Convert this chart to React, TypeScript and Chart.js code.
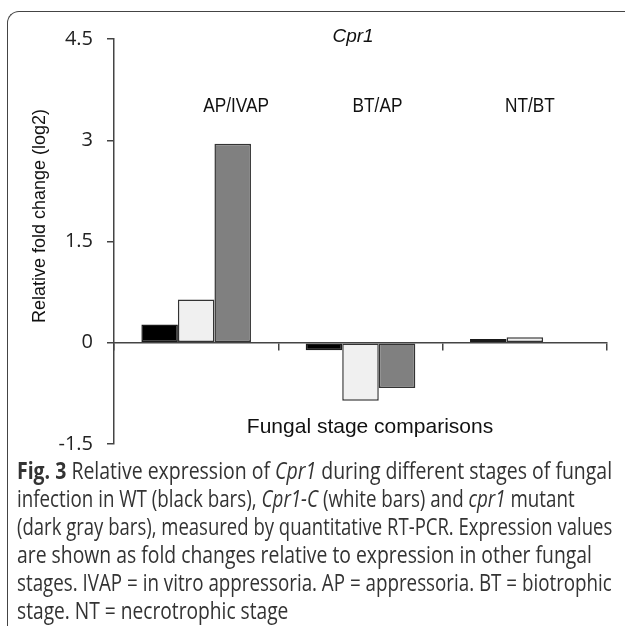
import React, { useEffect, useLayoutEffect, useRef, useState } from "react";
import { Chart, registerables } from "chart.js";

Chart.register(...registerables);

const categories = ["AP/IVAP", "BT/AP", "NT/BT"];
const wtValues = [0.27, -0.11, 0.055];
const cprCValues = [0.64, -0.86, 0.08];
const mutantValues: (number | null)[] = [2.95, -0.67, null];
const yTicks = [-1.5, 0, 1.5, 3, 4.5];
const seriesNames = ["WT", "Cpr1-C", "cpr1"];

const LABEL_NUDGE = [40, 17, 5];

const captionLines: React.ReactNode[] = [
  <><b style={{ fontWeight: 700 }}>Fig. 3</b> Relative expression of <i>Cpr1</i> during different stages of fungal</>,
  <>infection in WT (black bars), <i>Cpr1-C</i> (white bars) and <i>cpr1</i> mutant</>,
  <>(dark gray bars), measured by quantitative RT-PCR. Expression values</>,
  <>are shown as fold changes relative to expression in other fungal</>,
  <>stages. IVAP = in vitro appressoria. AP = appressoria. BT = biotrophic</>,
  <>stage. NT = necrotrophic stage</>,
];
const CAPTION_LEFT = 17;
const captionRightEdges = [612, 575, 612, 592, 612, 288];

const textPlugin = {
  id: "figText",
  afterDraw(chart: any) {
    const ctx = chart.ctx;
    const xs = chart.scales.x;
    ctx.save();
    ctx.fillStyle = "#111";
    ctx.textBaseline = "alphabetic";
    ctx.textAlign = "center";
    ctx.font = 'italic 19px "Liberation Sans", Arial, sans-serif';
    ctx.fillText("Cpr1", 353, 42);
    ctx.font = '21px "Liberation Sans", Arial, sans-serif';
    categories.forEach((c, i) => {
      const w = ctx.measureText(c).width;
      ctx.fillText(c, xs.getPixelForValue(i) + LABEL_NUDGE[i], 112, w * 0.82);
    });
    ctx.fillText("Fungal stage comparisons", 370, 433);
    ctx.translate(45, 216);
    ctx.rotate(-Math.PI / 2);
    ctx.font = '18px "Liberation Sans", Arial, sans-serif';
    ctx.fillText("Relative fold change (log2)", 0, 0);
    ctx.restore();
  },
};

export default function App() {
  const canvasRef = useRef<HTMLCanvasElement | null>(null);
  const capRef = useRef<HTMLDivElement | null>(null);
  const [scales, setScales] = useState<number[]>(captionLines.map(() => 1));

  useLayoutEffect(() => {
    const el = capRef.current;
    if (!el) return;
    const spans = Array.from(el.querySelectorAll("span.capline")) as HTMLSpanElement[];
    const s = spans.map((sp, i) => {
      const w = sp.offsetWidth;
      return w > 0 ? (captionRightEdges[i] - CAPTION_LEFT) / w : 1;
    });
    setScales(s);
  }, []);

  useEffect(() => {
    if (!canvasRef.current) return;
    const chart = new Chart(canvasRef.current, {
      type: "bar",
      data: {
        labels: categories,
        datasets: [
          { label: seriesNames[0], data: wtValues, backgroundColor: "#000000", borderColor: "#1a1a1a" },
          { label: seriesNames[1], data: cprCValues, backgroundColor: "#f0f0f0", borderColor: "#333333" },
          { label: seriesNames[2], data: mutantValues, backgroundColor: "#808080", borderColor: "#333333" },
        ].map((d) => ({ ...d, borderWidth: 1.5, borderSkipped: false, categoryPercentage: 0.667, barPercentage: 1 })),
      },
      options: {
        responsive: false,
        maintainAspectRatio: false,
        animation: false,
        layout: { padding: { left: 0, right: 18, top: 39, bottom: 7 } },
        plugins: { legend: { display: false }, tooltip: { enabled: false }, title: { display: false } },
        scales: {
          x: {
            type: "category",
            position: { y: 0 } as any,
            offset: true,
            afterFit: (s: any) => { s.height = 0; },
            grid: { offset: true, drawOnChartArea: false, drawTicks: true, tickLength: 7, color: "#444", lineWidth: 1.5 },
            border: { display: true, color: "#444", width: 1.5 },
            ticks: { display: false },
          },
          y: {
            min: -1.5,
            max: 4.5,
            afterFit: (s: any) => { s.width = 114; },
            afterBuildTicks: (s: any) => { s.ticks = yTicks.map((v) => ({ value: v })); },
            grid: { drawOnChartArea: false, drawTicks: true, tickLength: 7, color: "#444", lineWidth: 1.5 },
            border: { display: true, color: "#444", width: 1.5 },
            ticks: {
              padding: 14,
              color: "#222",
              font: { family: '"Open Sans", sans-serif', size: 20 },
              callback: (v: any) => String(v),
            },
          },
        },
      },
      plugins: [textPlugin],
    });
    return () => chart.destroy();
  }, []);

  return (
    <div style={{ position: "absolute", left: 0, top: 0, width: 625, height: 626, overflow: "hidden", background: "#fff" }}>
      <div
        style={{
          position: "absolute",
          left: 7,
          top: 11,
          width: 800,
          height: 800,
          borderTop: "1.5px solid #444",
          borderLeft: "1.5px solid #444",
          borderTopLeftRadius: 12,
        }}
      />
      <canvas ref={canvasRef} width={625} height={470} style={{ position: "absolute", left: 0, top: 0, width: 625, height: 470 }} />
      <div
        ref={capRef}
        style={{
          position: "absolute",
          left: CAPTION_LEFT,
          top: 456,
          fontFamily: '"Open Sans", sans-serif',
          fontSize: 23,
          lineHeight: "28px",
          color: "#333",
          whiteSpace: "nowrap",
        }}
      >
        {captionLines.map((l, i) => (
          <div key={i} style={{ height: 28 }}>
            <span
              className="capline"
              style={{ display: "inline-block", transform: `scaleX(${scales[i]})`, transformOrigin: "left top" }}
            >
              {l}
            </span>
          </div>
        ))}
      </div>
    </div>
  );
}
